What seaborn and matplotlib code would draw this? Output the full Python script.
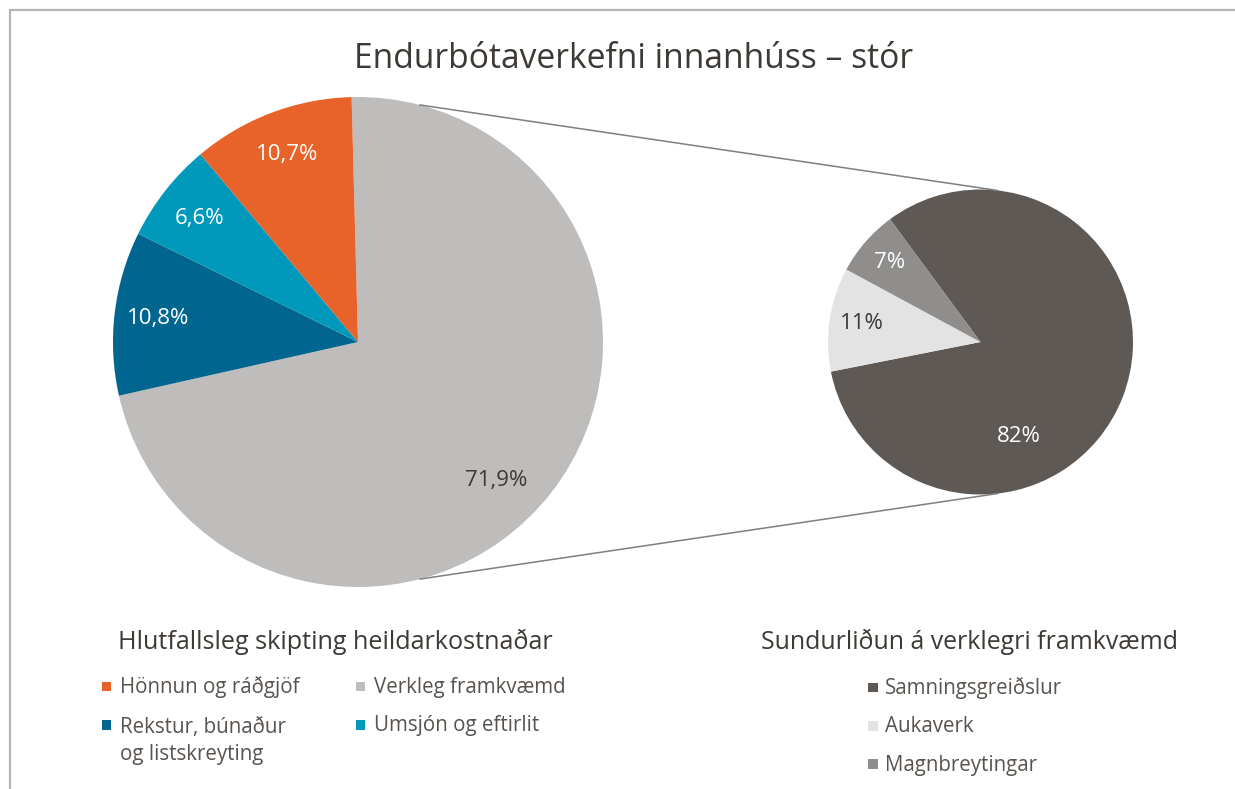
import numpy as np
import matplotlib
matplotlib.use('Agg')
import matplotlib.pyplot as plt
from matplotlib.patches import Rectangle
import seaborn as sns

# data
main_labels = ['Verkleg framkvæmd', 'Rekstur, búnaður\nog listskreyting',
               'Umsjón og eftirlit', 'Hönnun og ráðgjöf']
main_values = [71.9, 10.8, 6.6, 10.7]
main_colors = ['#bebdbb', '#006690', '#0099bb', '#e8632a']
main_text_colors = ['#3d3935', 'white', 'white', 'white']

detail_labels = ['Samningsgreiðslur', 'Aukaverk', 'Magnbreytingar']
detail_values = [82, 11, 7]
detail_colors = ['#5e5955', '#e3e3e3', '#8f8e8c']
detail_text_colors = ['white', '#3d3935', 'white']

title = 'Endurbótaverkefni innanhúss – stór'
main_title = 'Hlutfallsleg skipting heildarkostnaðar'
detail_title = 'Sundurliðun á verklegri framkvæmd'

sns.set_theme(style='white')
plt.rcParams['font.family'] = ['Open Sans', 'DejaVu Sans']

W, H = 1235, 789
fig = plt.figure(figsize=(W / 100, H / 100), dpi=100)
ax = fig.add_axes([0, 0, 1, 1])

# pixel layout (y grows downwards)
L_C, L_R = (358, 342), 245
R_C, R_R = (980.5, 342), 152.5

def pct_main(p):
    return f'{p:.1f}%'.replace('.', ',')

def pct_detail(p):
    return f'{p:.0f}%'

def rim(c, r, deg):
    a = np.radians(deg)
    return c[0] + r * np.sin(a), c[1] - r * np.cos(a)

_, _, main_txt = ax.pie(main_values, colors=main_colors, center=L_C, radius=L_R,
                        startangle=-91.5, counterclock=True, autopct=pct_main,
                        pctdistance=0.82, wedgeprops=dict(linewidth=0),
                        textprops=dict(fontsize=16))
for t, c in zip(main_txt, main_text_colors):
    t.set_color(c)
# large slice label placed a bit lower, as in the original
main_txt[0].set_position(rim(L_C, 0.80 * L_R, 135))

_, _, det_txt = ax.pie(detail_values, colors=detail_colors, center=R_C, radius=R_R,
                       startangle=233.6, counterclock=True, autopct=pct_detail,
                       pctdistance=0.79, wedgeprops=dict(linewidth=0),
                       textprops=dict(fontsize=16))
for t, c in zip(det_txt, detail_text_colors):
    t.set_color(c)
det_txt[0].set_position(rim(R_C, 0.67 * R_R, 158))

# connector lines between the two pies
for la, ra in [(14.6, 6.5), (165.4, 173.5)]:
    p1, p2 = rim(L_C, L_R, la), rim(R_C, R_R, ra)
    ax.plot([p1[0], p2[0]], [p1[1], p2[1]], color='#7f7f7f', lw=1.1)

ax.set_xlim(0, W)
ax.set_ylim(H, 0)
ax.set_aspect('auto')
ax.axis('off')

# frame
ax.plot([9.5, 9.5, W], [H, 10, 10], color='#b4b4b4', lw=1.6, solid_joinstyle='miter')

ax.text(634, 68, title, ha='center', va='baseline', fontsize=24.2, color='#3d3935')

# legends
line_pitch = 28.5
txt_kw = dict(ha='left', va='baseline', fontsize=14.8, color='#58534f', linespacing=1.4)
ax.text(335, 649, main_title, ha='center', va='baseline', fontsize=18.1, color='#3d3935')
main_slots = {'Hönnun og ráðgjöf': (0, 0), 'Verkleg framkvæmd': (1, 0),
              'Rekstur, búnaður\nog listskreyting': (0, 1), 'Umsjón og eftirlit': (1, 1)}
col_x = [101.5, 355.5]
row_y = [693, 731.5]
for lab, col in zip(main_labels, main_colors):
    ci, ri = main_slots[lab]
    x, y = col_x[ci], row_y[ri]
    ax.add_patch(Rectangle((x, y - 11.5), 9.5, 9.5, color=col, lw=0))
    ax.text(x + 18, y + lab.count('\n') * line_pitch, lab, **txt_kw)

ax.text(969.5, 649, detail_title, ha='center', va='baseline', fontsize=17.9, color='#3d3935')
det_y = [694, 732.5, 770.5]
for lab, col, y in zip(detail_labels, detail_colors, det_y):
    ax.add_patch(Rectangle((868, y - 11.5), 9.5, 9.5, color=col, lw=0))
    ax.text(885, y, lab, **txt_kw)

fig.savefig('out.png', dpi=100)
